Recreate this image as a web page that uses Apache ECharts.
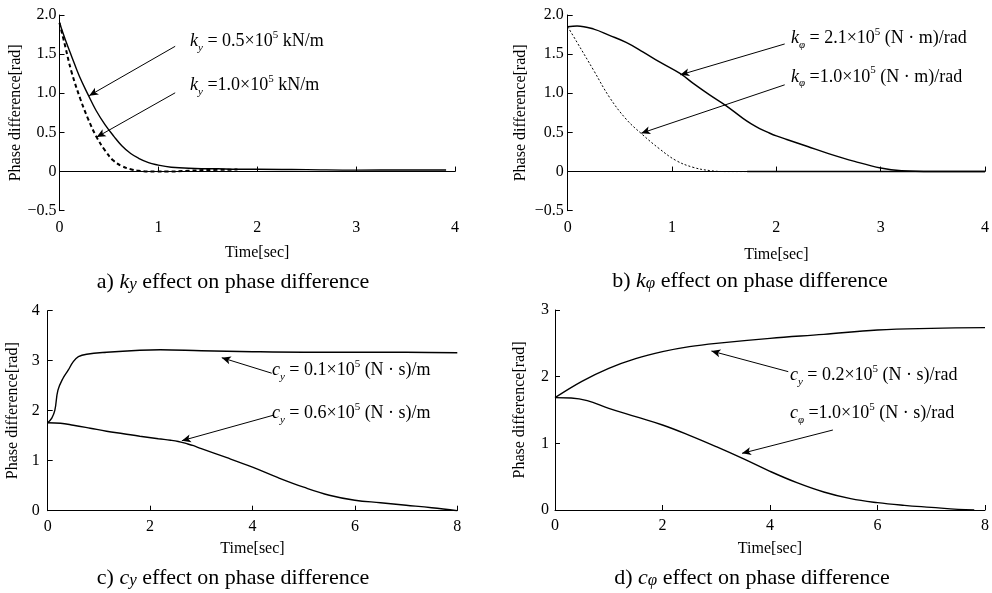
<!DOCTYPE html>
<html>
<head>
<meta charset="utf-8">
<script src="https://cdn.jsdelivr.net/npm/echarts@6/dist/echarts.min.js"></script>
<style>
  html, body { margin: 0; padding: 0; background: #fff; }
  #chart { width: 992px; height: 593px; }
</style>
</head>
<body>
<div id="chart"></div>
<script>
// values, [time, phase difference]
const kyLow = [[0, 1.9], [0.06, 1.68], [0.12, 1.48], [0.2, 1.22], [0.29, 0.98], [0.37, 0.78], [0.46, 0.6],
  [0.55, 0.45], [0.63, 0.33], [0.72, 0.23], [0.8, 0.17], [0.9, 0.115], [0.97, 0.09], [1.13, 0.055],
  [1.37, 0.04], [1.6, 0.035], [1.8, 0.03], [2.0, 0.03], [2.5, 0.025], [3.0, 0.018], [3.5, 0.02], [3.91, 0.02]]
const kyHigh = [[0, 1.9], [0.056, 1.61], [0.12, 1.28], [0.21, 0.93], [0.29, 0.67], [0.375, 0.44], [0.46, 0.27],
  [0.545, 0.14], [0.63, 0.07], [0.72, 0.03], [0.8, 0.01], [0.97, 0.0], [1.1, 0.0], [1.3, 0.01], [1.5, 0.02], [1.8, 0.025]]

const kpHigh = [[0, 1.85], [0.09, 1.86], [0.25, 1.82], [0.4, 1.74], [0.56, 1.65], [0.72, 1.53], [0.88, 1.4],
  [1.08, 1.25], [1.2, 1.13], [1.36, 0.98], [1.52, 0.84], [1.68, 0.68], [1.76, 0.61], [1.84, 0.55],
  [1.92, 0.5], [2.0, 0.455], [2.1, 0.41], [2.3, 0.32], [2.5, 0.23], [2.75, 0.13], [3.0, 0.045],
  [3.2, 0.01], [3.5, 0], [4, 0]]
const kpLow = [[0, 1.85], [0.09, 1.65], [0.25, 1.29], [0.4, 0.95], [0.56, 0.67], [0.71, 0.48], [0.88, 0.29],
  [1.04, 0.14], [1.2, 0.055], [1.36, 0.013], [1.52, 0], [1.72, 0]]
const kpLowTail = [[1.72, 0], [4, 0]]

const cyLow = [[0, 1.76], [0.08, 1.85], [0.14, 2.01], [0.2, 2.41], [0.3, 2.65], [0.4, 2.81], [0.5, 2.98],
  [0.6, 3.08], [0.76, 3.13], [1.15, 3.17], [1.8, 3.21], [2.2, 3.22], [3, 3.2], [4, 3.18], [5, 3.17],
  [6, 3.17], [7, 3.17], [8, 3.16]]
const cyHigh = [[0, 1.76], [0.25, 1.75], [0.5, 1.71], [0.83, 1.65], [1.15, 1.59], [1.48, 1.54], [1.8, 1.49],
  [2.16, 1.44], [2.4, 1.41], [2.55, 1.385], [2.7, 1.345], [2.85, 1.3], [3, 1.24], [3.5, 1.06], [4, 0.87],
  [4.5, 0.66], [5, 0.47], [5.5, 0.31], [6, 0.21], [6.5, 0.16], [7, 0.11], [7.5, 0.06], [8, 0]]

const cyRot = [[0, 1.685], [0.5, 1.93], [1, 2.125], [1.5, 2.27], [2, 2.375], [2.5, 2.45], [3, 2.5],
  [4, 2.575], [5, 2.635], [6, 2.7], [7, 2.725], [8, 2.735]]
const cpRot = [[0, 1.685], [0.3, 1.68], [0.6, 1.64], [1, 1.525], [1.5, 1.4], [2, 1.275], [2.5, 1.12],
  [3, 0.95], [3.5, 0.77], [4, 0.58], [4.5, 0.41], [5, 0.27], [5.5, 0.17], [6, 0.11], [6.5, 0.07],
  [7, 0.04], [7.5, 0.01], [7.8, 0]]

// annotation arrows [from, to] and label anchors, in data units
const arrowsA = [[[1.17, 1.6], [0.3, 0.97]], [[1.17, 1.006], [0.376, 0.44]]]
const labelsA = [[1.32, 1.66], [1.32, 1.1]]
const arrowsB = [[[2.08, 1.63], [1.08, 1.236]], [[2.08, 1.108], [0.705, 0.49]]]
const labelsB = [[2.14, 1.7], [2.14, 1.21]]
const arrowsC = [[[4.375, 2.75], [3.4, 3.06]], [[4.41, 1.91], [2.62, 1.4]]]
const labelsC = [[4.38, 2.81], [4.38, 1.95]]
const arrowsD = [[[4.34, 2.075], [2.91, 2.385]], [[5.17, 1.2], [3.48, 0.85]]]
const labelsD = [[4.37, 2.02], [4.37, 1.45]]

const annTexts = {
  a: ['{i|k}{s|y}{n| = 0.5×10}{p|5}{n| kN/m}', '{i|k}{s|y}{n| =1.0×10}{p|5}{n| kN/m}'],
  b: ['{i|k}{s|φ}{n| = 2.1×10}{p|5}{n| (N · m)/rad}', '{i|k}{s|φ}{n| =1.0×10}{p|5}{n| (N · m)/rad}'],
  c: ['{i|c}{s|y}{n| = 0.1×10}{p|5}{n| (N · s)/m}', '{i|c}{s|y}{n| = 0.6×10}{p|5}{n| (N · s)/m}'],
  d: ['{i|c}{s|y}{n| = 0.2×10}{p|5}{n| (N · s)/rad}', '{i|c}{s|φ}{n| =1.0×10}{p|5}{n| (N · s)/rad}'],
}

const serif = 'Liberation Serif'

const annRich = {
  n: { fontFamily: serif, fontSize: 18, color: '#000', lineHeight: 24 },
  i: { fontFamily: serif, fontSize: 18, fontStyle: 'italic', color: '#000', lineHeight: 24 },
  s: { fontFamily: serif, fontSize: 11, fontStyle: 'italic', color: '#000', verticalAlign: 'bottom', lineHeight: 14 },
  p: { fontFamily: serif, fontSize: 11, color: '#000', verticalAlign: 'top', lineHeight: 14 },
}

const grids = [
  { left: 59.5, top: 15, width: 395.5, height: 195.7 },
  { left: 567.7, top: 15, width: 417.6, height: 195.7 },
  { left: 47.7, top: 310.7, width: 409.6, height: 200 },
  { left: 555, top: 310, width: 432, height: 200 },
]

const axisBase = {
  axisLine: { lineStyle: { color: '#000', width: 1 } },
  axisTick: { inside: true, length: 5, lineStyle: { color: '#000' } },
  splitLine: { show: false },
  nameLocation: 'middle',
  nameTextStyle: { fontFamily: serif, fontSize: 16, color: '#000' },
}

const xAxes = [
  { max: 4, interval: 1, nameGap: 34, margin: 9 },
  { max: 4, interval: 1, nameGap: 36, margin: 9 },
  { max: 8, interval: 2, nameGap: 30, margin: 8 },
  { max: 8, interval: 2, nameGap: 31, margin: 8 },
].map((a, i) => ({
  ...axisBase,
  type: 'value', gridIndex: i, min: 0, max: a.max, interval: a.interval,
  name: 'Time[sec]', nameGap: a.nameGap,
  axisLabel: { margin: a.margin, fontFamily: serif, fontSize: 16, color: '#000' },
}))

const yAxes = [
  { min: -0.5, max: 2, interval: 0.5, nameGap: 35, margin: 3, fixed: true },
  { min: -0.5, max: 2, interval: 0.5, nameGap: 39, margin: 4, fixed: true },
  { min: 0, max: 4, interval: 1, nameGap: 27, margin: 8 },
  { min: 0, max: 3, interval: 1, nameGap: 27, margin: 6 },
].map((a, i) => ({
  ...axisBase,
  type: 'value', gridIndex: i, min: a.min, max: a.max, interval: a.interval,
  name: 'Phase difference[rad]', nameGap: a.nameGap,
  axisLabel: {
    margin: a.margin, fontFamily: serif, fontSize: 16, color: '#000',
    formatter: (v) => {
      if (v === 0) return '0'
      const s = a.fixed ? Math.abs(v).toFixed(1) : String(Math.abs(v))
      return v < 0 ? '\u2212' + s : s
    },
  },
}))

const lineSeries = (idx, data, type, width) => ({
  type: 'line', xAxisIndex: idx, yAxisIndex: idx, data,
  symbol: 'none', smooth: 0.4, silent: true,
  itemStyle: { color: '#000' },
  lineStyle: { color: '#000', width: width || 1.4, type: type || 'solid' },
})

const withNotes = (s, arrows, labels, texts) => ({
  ...s,
  markLine: {
    silent: true, symbol: ['none', 'arrow'], symbolSize: [6, 9], animation: false,
    label: { show: false },
    itemStyle: { color: '#000' },
    lineStyle: { color: '#000', width: 1, type: 'solid' },
    data: arrows.map((ar) => [{ coord: ar[0] }, { coord: ar[1] }]),
  },
  markPoint: {
    silent: true, symbol: 'circle', symbolSize: 0, animation: false,
    data: labels.map((c, k) => ({
      coord: c,
      label: { show: true, position: 'right', distance: 0, formatter: texts[k], rich: annRich },
    })),
  },
})

const series = [
  withNotes(lineSeries(0, kyLow), arrowsA, labelsA, annTexts.a),
  lineSeries(0, kyHigh, [4, 3], 2),
  withNotes(lineSeries(1, kpHigh), arrowsB, labelsB, annTexts.b),
  lineSeries(1, kpLow, [2, 2], 1),
  lineSeries(1, kpLowTail),
  withNotes(lineSeries(2, cyLow), arrowsC, labelsC, annTexts.c),
  lineSeries(2, cyHigh),
  withNotes(lineSeries(3, cyRot), arrowsD, labelsD, annTexts.d),
  lineSeries(3, cpRot),
]

const capRich = {
  n: { fontFamily: serif, fontSize: 22, fill: '#000', lineHeight: 28 },
  i: { fontFamily: serif, fontSize: 22, fontStyle: 'italic', fill: '#000', lineHeight: 28 },
  s: { fontFamily: serif, fontSize: 17, fontStyle: 'italic', fill: '#000', lineHeight: 28, padding: [6, 0, 0, 0] },
}
const captions = [
  { x: 233, y: 282, text: '{n|a) }{i|k}{s|y}{n| effect on phase difference}' },
  { x: 750, y: 281, text: '{n|b) }{i|k}{s|φ}{n| effect on phase difference}' },
  { x: 233, y: 578, text: '{n|c) }{i|c}{s|y}{n| effect on phase difference}' },
  { x: 752, y: 578, text: '{n|d) }{i|c}{s|φ}{n| effect on phase difference}' },
]

const chart = echarts.init(document.getElementById('chart'))
chart.setOption({
  animation: false,
  backgroundColor: '#fff',
  grid: grids,
  xAxis: xAxes,
  yAxis: yAxes,
  series,
  graphic: captions.map((c) => ({
    type: 'text', x: c.x, y: c.y, silent: true,
    style: { text: c.text, rich: capRich, align: 'center', verticalAlign: 'middle', fill: '#000' },
  })),
})
</script>
</body>
</html>
